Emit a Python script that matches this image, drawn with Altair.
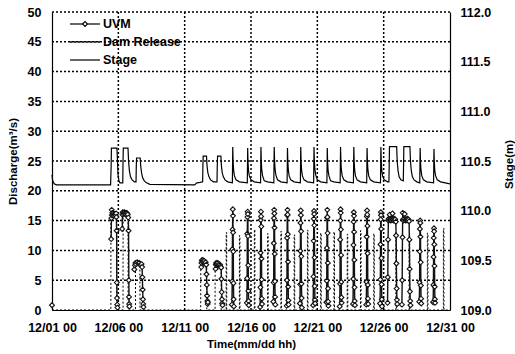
import altair as alt
import pandas as pd
import numpy as np

# ---------------- data ----------------
tick_hours = [0, 120, 240, 360, 480, 600, 720]
tick_labels = ["12/01 00", "12/06 00", "12/11 00", "12/16 00", "12/21 00", "12/26 00", "12/31 00"]
discharge_ticks = [0, 5, 10, 15, 20, 25, 30, 35, 40, 45, 50]
stage_ticks = [109.0, 109.5, 110.0, 110.5, 111.0, 111.5, 112.0]
series_names = ["UVM", "Dam Release", "Stage"]

# UVM discharge (hours since 12/01 00, m3/s)
uvm_hour = [
    0,
    107, 107.5, 108, 108.5, 109, 110, 111, 112, 113, 114, 115, 116, 116.5, 117, 117.3, 117.6, 118, 118.4,
    127, 127.5, 128, 129, 130, 131, 132, 133, 134, 135, 136, 137, 138, 138.5, 139, 139.3, 139.6, 140,
    149, 150, 151, 152, 154, 156, 158, 160, 162, 163, 163.5, 164, 164.5, 165, 165.5,
    270, 270.5, 271, 272, 273, 274, 275, 276, 277, 278, 279, 279.5, 280, 280.5, 281, 281.5, 282,
    296, 296.5, 297, 298, 299, 300, 301, 302, 303, 304, 305, 306, 306.5, 307, 307.5, 308, 308.5,
    325.5, 326, 326.3, 326.6, 327, 327.3, 327.6, 328, 328.3, 328.6, 329,
    352.5, 353, 353.3, 353.6, 354, 354.3, 354.6, 355, 355.3, 355.6, 356,
    376.5, 377, 377.3, 377.6, 378, 378.3, 378.6, 379, 379.3, 379.6, 380,
    400.5, 401, 401.3, 401.6, 402, 402.3, 402.6, 403, 403.3, 403.6, 404,
    424.5, 425, 425.3, 425.6, 426, 426.3, 426.6, 427, 427.3, 427.6, 428,
    448.5, 449, 449.3, 449.6, 450, 450.3, 450.6, 451, 451.3, 451.6, 452,
    472.5, 473, 473.3, 473.6, 474, 474.3, 474.6, 475, 475.3, 475.6, 476,
    496.5, 497, 497.3, 497.6, 498, 498.3, 498.6, 499, 499.3, 499.6, 500,
    520.5, 521, 521.3, 521.6, 522, 522.3, 522.6, 523, 523.3, 523.6, 524,
    544.5, 545, 545.3, 545.6, 546, 546.3, 546.6, 547, 547.3, 547.6, 548,
    568.5, 569, 569.3, 569.6, 570, 570.3, 570.6, 571, 571.3, 571.6, 572,
    593.5, 594, 594.3, 594.6, 595, 595.3, 595.6, 596, 596.3, 596.6, 597,
    607, 607.5, 608, 608.5, 609, 610, 611, 612, 613, 614, 615, 616, 617, 618, 619, 620, 621, 622, 622.5, 623, 623.5, 624, 624.5,
    633, 633.5, 634, 634.5, 635, 636, 637, 638, 639, 640, 641, 642, 643, 644, 645, 646, 646.5, 647, 647.5, 648, 648.5,
    664.5, 665, 665.3, 665.6, 666, 666.3, 666.6, 667, 667.3, 667.6, 668,
    689.5, 690, 690.3, 690.6, 691, 691.3, 691.6, 692, 692.3, 692.6, 693,
]
uvm_q = [
    0.8,
    11.9, 15.4, 16.8, 15.9, 16.3, 16.0, 16.2, 15.8, 16.1, 16.0, 15.9, 16.2, 15.6, 13.3, 4.6, 2.0, 0.9, 0.4,
    13.6, 16.0, 16.4, 16.3, 16.1, 16.4, 16.2, 16.3, 16.0, 16.3, 16.2, 16.0, 15.5, 13.3, 5.0, 2.2, 1.0, 0.6,
    6.8, 7.5, 7.9, 7.7, 8.0, 7.8, 7.9, 7.6, 7.7, 7.2, 5.5, 3.4, 1.8, 1.0, 0.5,
    7.2, 7.9, 8.3, 8.4, 8.1, 8.3, 7.9, 8.2, 7.8, 8.0, 7.6, 6.0, 4.2, 2.4, 1.5, 1.0, 1.3,
    6.9, 7.6, 7.9, 7.8, 7.6, 7.9, 7.5, 7.7, 7.4, 7.6, 7.3, 7.1, 5.2, 3.0, 1.8, 1.1, 0.8,
    0.9, 4.8, 10.2, 13.5, 16.9, 15.8, 13.0, 9.8, 4.5, 1.8, 0.6,
    1.2, 5.3, 12.8, 15.6, 16.5, 16.1, 12.4, 7.5, 3.2, 1.5, 0.8,
    0.5, 3.8, 9.6, 15.1, 16.5, 15.7, 14.0, 8.6, 5.1, 1.9, 1.0,
    1.4, 4.6, 11.2, 15.4, 16.8, 16.2, 13.8, 9.4, 4.8, 2.2, 0.9,
    0.7, 5.0, 12.1, 15.9, 16.8, 16.0, 12.7, 8.1, 3.9, 1.6, 0.9,
    1.1, 4.3, 9.9, 14.6, 16.7, 15.9, 13.2, 9.0, 4.4, 2.0, 0.4,
    0.8, 5.6, 11.6, 15.3, 16.6, 16.1, 14.2, 8.8, 4.0, 1.7, 1.1,
    1.3, 4.9, 10.4, 15.5, 16.8, 15.6, 12.9, 7.9, 3.6, 1.4, 0.7,
    0.6, 4.4, 11.8, 15.0, 16.9, 16.3, 13.5, 9.2, 4.7, 2.1, 1.2,
    1.0, 5.2, 10.9, 14.8, 16.4, 15.8, 13.1, 8.4, 3.8, 1.5, 0.8,
    0.9, 4.7, 12.3, 15.7, 16.7, 16.0, 14.1, 9.5, 4.2, 1.9, 1.0,
    1.1, 5.1, 11.0, 15.2, 16.4, 15.9, 13.6, 8.7, 4.3, 1.8, 0.6,
    1.2, 5.5, 11.8, 15.0, 15.3, 15.1, 16.0, 15.2, 15.0, 15.3, 15.1, 16.2, 15.2, 15.0, 15.3, 15.1, 15.2, 14.8, 12.5, 7.8, 3.6, 1.7, 1.0,
    0.9, 5.0, 12.2, 16.3, 15.2, 15.0, 15.3, 16.1, 15.1, 15.0, 15.2, 15.1, 15.3, 15.0, 15.2, 14.9, 11.8, 6.9, 3.1, 1.5, 0.8,
    1.4, 4.6, 9.8, 13.6, 15.0, 14.6, 12.3, 8.0, 4.1, 1.9, 1.1,
    1.3, 4.2, 8.9, 12.1, 13.7, 13.2, 11.0, 7.4, 3.9, 1.8, 1.2,
]

# Dam release (hours, m3/s)
dam_hour = [
    0, 106.5, 106.6, 116.6, 116.7, 128.5, 128.6, 137.6, 137.7, 151.0, 151.1, 159.0, 159.1,
    269.0, 269.1, 280.0, 280.1, 295.0, 295.1, 306.0, 306.1,
    315, 315.1, 316, 316.1, 339, 339.1, 340, 340.1, 366, 366.1, 367, 367.1,
    390, 390.1, 391, 391.1, 414, 414.1, 415, 415.1, 438, 438.1, 439, 439.1,
    462, 462.1, 463, 463.1, 486, 486.1, 487, 487.1, 510, 510.1, 511, 511.1,
    534, 534.1, 535, 535.1, 558, 558.1, 559, 559.1, 582, 582.1, 583, 583.1,
    622, 622.1, 623, 623.1, 646, 646.1, 647, 647.1, 679, 679.1, 680, 680.1,
    708, 708.1, 709, 709.1, 720,
]
dam_q = [
    0, 0, 16.0, 16.0, 0, 0, 16.2, 16.2, 0, 0, 7.8, 7.8, 0,
    0, 8.0, 8.0, 0, 0, 7.8, 7.8, 0,
    0, 13.0, 13.0, 0, 0, 12.5, 12.5, 0, 0, 13.5, 13.5, 0,
    0, 12.8, 12.8, 0, 0, 13.2, 13.2, 0, 0, 12.6, 12.6, 0,
    0, 13.4, 13.4, 0, 0, 12.9, 12.9, 0, 0, 13.1, 13.1, 0,
    0, 12.7, 12.7, 0, 0, 13.3, 13.3, 0, 0, 12.8, 12.8, 0,
    0, 13.0, 13.0, 0, 0, 12.6, 12.6, 0, 0, 12.9, 12.9, 0,
    0, 13.7, 13.7, 0, 0,
]

# Stage (hours, m)
stage_hour = [
    0, 1, 2, 4, 8, 106, 107, 107.5, 117.5, 118.5, 119.5, 121, 123, 128,
    128.5, 129, 137.5, 138.5, 140, 142, 145, 149, 152,
    152.5, 153, 159.5, 160.5, 162, 164, 167, 171, 177, 258, 262, 268, 272.5,
    273, 273.5, 279.5, 280.5, 282, 284, 287, 292, 298.5,
    299, 299.5, 305.5, 306.5, 308, 310, 313, 318, 326.3,
    327, 327.6, 328.5, 330, 333, 339, 353.3,
    354, 354.6, 355.5, 357, 360, 366, 377.3,
    378, 378.6, 379.5, 381, 384, 390, 401.3,
    402, 402.6, 403.5, 405, 408, 414, 425.3,
    426, 426.6, 427.5, 429, 432, 438, 449.3,
    450, 450.6, 451.5, 453, 456, 462, 473.3,
    474, 474.6, 475.5, 477, 480, 486, 497.3,
    498, 498.6, 499.5, 501, 504, 510, 521.3,
    522, 522.6, 523.5, 525, 528, 534, 545.3,
    546, 546.6, 547.5, 549, 552, 558, 569.3,
    570, 570.6, 571.5, 573, 576, 582, 594.3,
    595, 595.6, 596.5, 598, 601, 607, 609.5,
    610, 610.5, 623.5, 624.5, 626, 628, 631, 635.5,
    636, 636.5, 647.5, 648.5, 650, 652, 655, 660, 665.3,
    666, 666.6, 667.5, 669, 672, 678, 690.3,
    691, 691.6, 692.5, 694, 697, 703, 720,
]
stage_m = [
    110.36, 110.31, 110.29, 110.27, 110.26, 110.26, 110.45, 110.63, 110.63, 110.50, 110.36, 110.30, 110.28, 110.28,
    110.50, 110.63, 110.63, 110.50, 110.40, 110.34, 110.31, 110.29, 110.29,
    110.45, 110.53, 110.53, 110.45, 110.38, 110.33, 110.30, 110.28, 110.265, 110.26, 110.28, 110.285, 110.29,
    110.45, 110.55, 110.55, 110.45, 110.38, 110.34, 110.31, 110.29, 110.29,
    110.45, 110.55, 110.55, 110.45, 110.38, 110.34, 110.31, 110.29, 110.28,
    110.64, 110.50, 110.41, 110.35, 110.31, 110.29, 110.28,
    110.63, 110.49, 110.40, 110.35, 110.31, 110.29, 110.28,
    110.64, 110.50, 110.41, 110.35, 110.30, 110.29, 110.28,
    110.64, 110.51, 110.42, 110.36, 110.31, 110.29, 110.28,
    110.63, 110.50, 110.41, 110.35, 110.31, 110.29, 110.28,
    110.64, 110.50, 110.41, 110.35, 110.31, 110.29, 110.28,
    110.64, 110.51, 110.42, 110.36, 110.31, 110.29, 110.28,
    110.63, 110.49, 110.40, 110.35, 110.30, 110.29, 110.28,
    110.64, 110.50, 110.41, 110.35, 110.31, 110.29, 110.28,
    110.64, 110.50, 110.41, 110.35, 110.31, 110.29, 110.28,
    110.63, 110.50, 110.41, 110.35, 110.31, 110.29, 110.28,
    110.64, 110.50, 110.41, 110.35, 110.31, 110.29, 110.29,
    110.45, 110.645, 110.645, 110.50, 110.40, 110.34, 110.31, 110.30,
    110.45, 110.645, 110.645, 110.50, 110.40, 110.34, 110.31, 110.29, 110.28,
    110.63, 110.50, 110.41, 110.35, 110.31, 110.29, 110.28,
    110.62, 110.49, 110.40, 110.35, 110.31, 110.29, 110.27,
]

# ---------------- tables ----------------
uvm_df = pd.DataFrame({"hour": uvm_hour, "q": uvm_q})
uvm_df["event"] = (uvm_df["hour"].diff().fillna(0) > 4).cumsum()
dam_df = pd.DataFrame({"hour": dam_hour, "q": dam_q})
stage_df = pd.DataFrame({"hour": stage_hour, "m": stage_m})
hgrid_df = pd.DataFrame({"q": discharge_ticks[1:]})
vgrid_df = pd.DataFrame({"hour": tick_hours[1:-1]})

FONT = "Liberation Sans"
GRID_DASH = [2, 2]

label_expr = "''"
for h, lab in reversed(list(zip(tick_hours, tick_labels))):
    label_expr = f"datum.value === {h} ? '{lab}' : ({label_expr})"

x_scale = alt.Scale(domain=[0, 720], nice=False, zero=False)
x_enc = alt.X(
    "hour:Q",
    scale=x_scale,
    axis=alt.Axis(
        values=tick_hours, labelExpr=label_expr, labelFlush=False, grid=False,
        domainColor="black", domainWidth=1.2, ticks=False, labelPadding=11,
        labelFont=FONT, labelFontSize=12.5, labelFontWeight="bold", labelColor="black",
        title="Time(mm/dd hh)", titleFont=FONT, titleFontSize=11.5, titleFontWeight="bold",
        titleColor="black", titleY=34, titleBaseline="middle",
    ),
)

q_scale = alt.Scale(domain=[0, 50], nice=False, zero=True)
q_axis = alt.Axis(
    orient="left", values=discharge_ticks, labelFlush=False, grid=False,
    domainColor="black", domainWidth=1.2, ticks=False, labelPadding=11,
    labelFont=FONT, labelFontSize=12.5, labelFontWeight="bold", labelColor="black",
    title="Discharge(m³/s)", titleFont=FONT, titleFontSize=11.5, titleFontWeight="bold",
    titleColor="black", titleX=-39, titleY=149, titleAngle=270,
    titleAlign="center", titleBaseline="middle",
)
y_q = alt.Y("q:Q", scale=q_scale, axis=q_axis)

# dotted grid drawn from the tick arrays through the scales
hgrid = alt.Chart(hgrid_df).mark_rule(color="black", strokeWidth=1.5, strokeDash=GRID_DASH).encode(y=y_q)
vgrid = alt.Chart(vgrid_df).mark_rule(color="black", strokeWidth=1.5, strokeDash=GRID_DASH).encode(x=x_enc)

dam_line = alt.Chart(dam_df).mark_line(color="black", strokeWidth=1, strokeDash=[2, 2]).encode(
    x=x_enc, y=y_q
)
uvm_line = alt.Chart(uvm_df).mark_line(color="#111111", strokeWidth=1.4).encode(
    x=x_enc, y=y_q, detail="event:N"
)
uvm_pts = alt.Chart(uvm_df).mark_point(
    shape="diamond", filled=True, fill="white", stroke="#111111", strokeWidth=1.1, size=24, opacity=1
).encode(x=x_enc, y=y_q)

discharge = alt.layer(hgrid, vgrid, dam_line, uvm_line, uvm_pts)

stage_line = alt.Chart(stage_df).mark_line(color="black", strokeWidth=1.2).encode(
    x=x_enc,
    y=alt.Y(
        "m:Q",
        scale=alt.Scale(domain=[109, 112], nice=False, zero=False),
        axis=alt.Axis(
            orient="right", values=stage_ticks, format=".1f", labelFlush=False, grid=False,
            domainColor="black", domainWidth=1.2, ticks=False, labelPadding=10,
            labelFont=FONT, labelFontSize=12.5, labelFontWeight="bold", labelColor="black",
            title="Stage(m)", titleFont=FONT, titleFontSize=11.5, titleFontWeight="bold",
            titleColor="black", titleX=59, titleY=152, titleAngle=270,
            titleAlign="center", titleBaseline="middle",
        ),
    ),
)

# ---------------- in-plot legend ----------------
one = alt.Data(values=[{"k": 1}])
leg_uvm = alt.Chart(one).mark_rule(color="black", strokeWidth=1.2).encode(
    x=alt.value(18), x2=alt.value(48), y=alt.value(12))
leg_uvm_pt = alt.Chart(one).mark_point(
    shape="diamond", filled=True, fill="white", stroke="black", strokeWidth=1.1, size=24, opacity=1
).encode(x=alt.value(33), y=alt.value(12))
leg_dam = alt.Chart(one).mark_rule(color="black", strokeWidth=1.5, strokeDash=[2, 2]).encode(
    x=alt.value(18), x2=alt.value(48), y=alt.value(30))
leg_stage = alt.Chart(one).mark_rule(color="black", strokeWidth=1.2).encode(
    x=alt.value(18), x2=alt.value(48), y=alt.value(48))
leg_text = [
    alt.Chart(one).mark_text(
        align="left", baseline="middle", font=FONT, fontSize=12.5, fontWeight="bold", color="black"
    ).encode(x=alt.value(51), y=alt.value(yy), text=alt.value(name))
    for name, yy in zip(series_names, [12, 30, 48])
]

chart = (
    alt.layer(discharge, stage_line, leg_uvm, leg_uvm_pt, leg_dam, leg_stage, *leg_text)
    .resolve_scale(y="independent")
    .properties(
        width=398, height=298,
        padding={"left": 52, "top": 12, "right": 65, "bottom": 44},
        autosize=alt.AutoSizeParams(type="none"),
        background="white",
    )
    .configure_view(stroke=None)
)

chart.save("out.html", embed_options={"renderer": "svg", "actions": False})
